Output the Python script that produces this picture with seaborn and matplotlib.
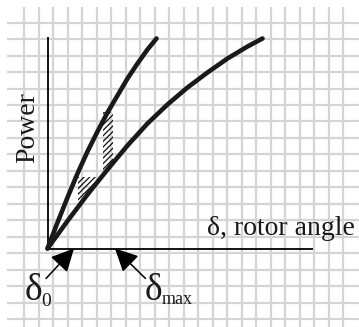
import matplotlib
matplotlib.use("Agg")
import matplotlib.pyplot as plt
import seaborn as sns
import pandas as pd
import numpy as np

# ---- data (plot units measured from the origin of the power-angle axes) ----
delta_upper = [0, 10, 20, 30, 40, 50, 60, 70, 80, 90, 100, 109]
power_upper = [0, 26, 51, 75, 97, 117, 136, 153, 170, 185, 199, 210]

delta_lower = [0, 20, 40, 60, 80, 100, 120, 140, 160, 180, 200, 215]
power_lower = [0, 27.5, 54, 79, 103, 125, 144, 161, 176, 190, 202, 210]

# hatched areas
hatch1_delta = [30.5, 40, 52.5]
hatch1_top = [71.5, 71.5, 71.5]
hatch1_bottom = [41.5, 54, 71.5]

hatch2_delta = [55.5, 60, 65.5]
hatch2_top = [136.5, 136.5, 136.5]
hatch2_bottom = [75.5, 79, 86.5]

delta0_tip = 26.5
delta_max_tip = 67.5

x_axis_end = 265.5
y_axis_top = 212

sns.set_theme(style="white")
plt.rcParams["font.family"] = ["Liberation Serif", "DejaVu Serif"]
plt.rcParams["hatch.linewidth"] = 0.9
plt.rcParams["hatch.color"] = "#111111"

W, H = 359, 327
fig = plt.figure(figsize=(W / 100, H / 100), dpi=100)

# background graph paper
bg = fig.add_axes([7 / W, 0, (W - 7) / W, (H - 7) / H])
bg.set_xlim(7, W)
bg.set_ylim(H, 7)
bg.set_xticks(24 + 14.5 * np.arange(23))
bg.set_yticks(22.7 + 16.46 * np.arange(19))
bg.grid(True, color="#d4d4d4", linewidth=1.6)
bg.tick_params(left=False, bottom=False, labelleft=False, labelbottom=False)
for s in bg.spines.values():
    s.set_visible(False)
bg.set_facecolor("white")

# main axes: origin at pixel (47.5, 248.5)
ox, oy = 47.5, 248.5
ax = fig.add_axes([0, 0, 1, 1])
ax.patch.set_alpha(0)

# axes lines
ax.plot([0, x_axis_end], [0, 0], color="black", lw=1.3, solid_capstyle="butt")
ax.plot([0, 0], [0, y_axis_top], color="black", lw=1.3, solid_capstyle="butt")

# hatched areas
ax.fill_between(hatch1_delta, hatch1_bottom, hatch1_top, facecolor="none",
                edgecolor="#111111", hatch="//////", linewidth=0)
ax.fill_between(hatch2_delta, hatch2_bottom, hatch2_top, facecolor="none",
                edgecolor="#111111", hatch="//////", linewidth=0)

df_u = pd.DataFrame({"delta": delta_upper, "power": power_upper})
df_l = pd.DataFrame({"delta": delta_lower, "power": power_lower})
sns.lineplot(data=df_u, x="delta", y="power", ax=ax, color="#1a1a1a", lw=3.3,
             sort=False, estimator=None)
sns.lineplot(data=df_l, x="delta", y="power", ax=ax, color="#1a1a1a", lw=3.3,
             sort=False, estimator=None)
ax.axis("off")
ax.set_xlim(-ox, W - ox)
ax.set_ylim(-(H - oy), oy)

# arrows
ap = dict(arrowstyle="-|>,head_length=1.0,head_width=0.5", color="black",
          lw=1.1, shrinkA=0, shrinkB=0, mutation_scale=14)
ax.annotate("", xy=(delta0_tip, 0), xytext=(-1.5, -30), arrowprops=ap)
ax.annotate("", xy=(delta_max_tip, 0), xytext=(98, -30), arrowprops=ap)

# labels
ax.text(-23, -51, "δ", fontsize=27, ha="left", va="baseline", color="#1a1a1a")
ax.text(-6.5, -57.5, "0", fontsize=14, ha="left", va="baseline", color="#1a1a1a")
ax.text(97, -51, "δ", fontsize=27, ha="left", va="baseline", color="#1a1a1a")
ax.text(114, -55.5, "max", fontsize=13, ha="left", va="baseline", color="#1a1a1a")
ax.text(307.5, 13.5, "δ, rotor angle", fontsize=20, ha="right", va="baseline",
        color="#1a1a1a")
ax.text(-19.5, 120.5, "Power", fontsize=20, rotation=90, ha="center", va="center",
        color="#1a1a1a")

fig.savefig("out.png", dpi=100)
